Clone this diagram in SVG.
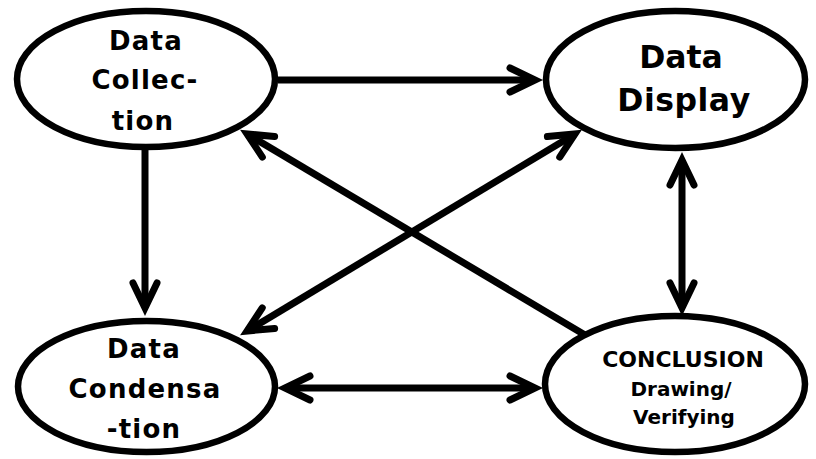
<svg xmlns="http://www.w3.org/2000/svg" width="816" height="459" viewBox="0 0 816 459">
<style>
.node{fill:#fff;stroke:#000;stroke-width:6.5}
.lbl{font-family:"DejaVu Sans","Liberation Sans",sans-serif;font-weight:bold;fill:#000;text-anchor:middle}
.edge{stroke:#000;stroke-width:7;fill:none;stroke-linecap:butt}
</style>
<defs>
<marker id="ah" markerUnits="userSpaceOnUse" viewBox="-40 -20 50 40" refX="0" refY="0" markerWidth="50" markerHeight="40" orient="auto-start-reverse" overflow="visible">
<path d="M-25,-12 L0,0 L-25,12" fill="none" stroke="#000" stroke-width="7" stroke-linecap="round" stroke-linejoin="miter"/>
</marker>
</defs>
<rect width="816" height="459" fill="#fff"/>
<g id="connectors">
<line class="edge" x1="278" y1="80" x2="535" y2="80" marker-end="url(#ah)"/>
<line class="edge" x1="285" y1="388" x2="535" y2="388" marker-start="url(#ah)" marker-end="url(#ah)"/>
<line class="edge" x1="145" y1="148" x2="145" y2="308" marker-end="url(#ah)"/>
<line class="edge" x1="682" y1="160" x2="682" y2="308" marker-start="url(#ah)" marker-end="url(#ah)"/>
<line class="edge" x1="585" y1="335" x2="247" y2="134" marker-end="url(#ah)"/>
<line class="edge" x1="247" y1="331" x2="575" y2="134" marker-start="url(#ah)" marker-end="url(#ah)"/>
</g>
<g id="collection">
<ellipse class="node" cx="146" cy="79" rx="129" ry="68"/>
<text class="lbl" font-size="26" letter-spacing="1.2" x="146" y="50">Data</text>
<text class="lbl" font-size="26" letter-spacing="1.2" x="145" y="89">Collec-</text>
<text class="lbl" font-size="26" letter-spacing="1.2" x="143" y="130">tion</text>
</g>
<g id="display">
<ellipse class="node" cx="675.5" cy="79.5" rx="129.5" ry="68.5"/>
<text class="lbl" font-size="31.5" x="681" y="68">Data</text>
<text class="lbl" font-size="31.5" letter-spacing="0.5" x="684" y="111">Display</text>
</g>
<g id="condensation">
<ellipse class="node" cx="146.5" cy="386.5" rx="128.5" ry="65.5"/>
<text class="lbl" font-size="26" letter-spacing="1.2" x="144" y="358">Data</text>
<text class="lbl" font-size="26" letter-spacing="1.2" x="145" y="398">Condensa</text>
<text class="lbl" font-size="26" letter-spacing="1.2" x="144" y="438">-tion</text>
</g>
<g id="conclusion">
<ellipse class="node" cx="675" cy="384" rx="130" ry="68"/>
<text class="lbl" font-size="22" x="683" y="367">CONCLUSION</text>
<text class="lbl" font-size="20" x="681" y="396">Drawing/</text>
<text class="lbl" font-size="20" x="684" y="424">Verifying</text>
</g>
</svg>
